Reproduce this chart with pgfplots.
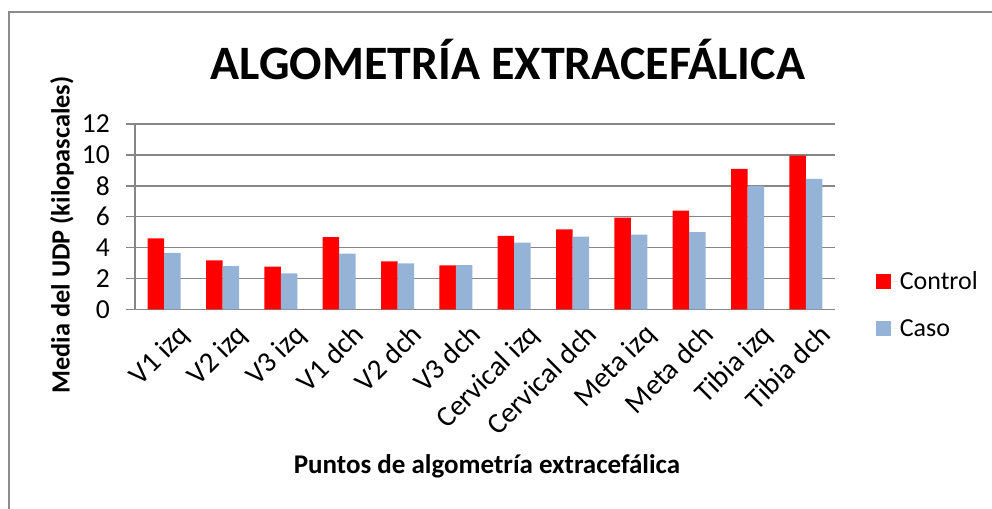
\documentclass[border=0pt]{standalone}
\usepackage{fontspec}
\setmainfont{Carlito}
\usepackage{pgfplots}
\pgfplotsset{compat=1.18}
\definecolor{ctrl}{HTML}{FF0000}
\definecolor{caso}{HTML}{95B3D7}
\definecolor{gridc}{HTML}{868686}
\definecolor{borderc}{HTML}{8C8C8C}
\begin{document}
\begin{tikzpicture}[x=1bp,y=1bp]
\path[use as bounding box] (0,0) rectangle (992,509);
\draw[borderc, line width=1.5bp] (9,0) -- (9,497) -- (992,497);
\begin{axis}[
  at={(135bp,199.7bp)}, anchor=south west,
  scale only axis, width=700bp, height=185.3bp,
  ybar=0pt, bar width=16.5bp,
  xmin=-0.5, xmax=11.5, ymin=0, ymax=12,
  xtick={0,...,11},
  xticklabels={V1 izq,V2 izq,V3 izq,V1 dch,V2 dch,V3 dch,Cervical izq,Cervical dch,Meta izq,Meta dch,Tibia izq,Tibia dch},
  ytick={0,2,...,12},
  axis x line*=bottom, axis y line*=left,
  axis line style={gridc, line width=1.5bp},
  ymajorgrids, major grid style={gridc, line width=1.5bp},
  xtick style={draw=none},
  ytick style={gridc, line width=1.5bp},
  tick align=outside, major tick length=9bp,
  /pgf/number format/assume math mode=true,
  yticklabel style={font=\fontsize{27.5bp}{30bp}\selectfont, inner sep=2bp, xshift=-14bp},
  xticklabel style={font=\fontsize{29bp}{31bp}\selectfont, rotate=45, anchor=north east, inner sep=2bp, xshift=8bp, yshift=-9bp},
  legend style={at={(1.058,0.215)}, anchor=north west, draw=none, fill=none,
    font=\fontsize{26bp}{30bp}\selectfont, row sep=24bp, inner sep=0pt},
  legend cell align=left,
  legend image code/.code={\fill[#1] (0bp,-7.5bp) rectangle (15bp,7.5bp); \path (0bp,0bp) -- (22bp,0bp);},
]
\addplot[fill=ctrl, draw=none] coordinates {(0,4.6) (1,3.17) (2,2.76) (3,4.68) (4,3.11) (5,2.85) (6,4.75) (7,5.18) (8,5.93) (9,6.39) (10,9.09) (11,9.95)};
\addplot[fill=caso, draw=none] coordinates {(0,3.65) (1,2.8) (2,2.33) (3,3.6) (4,2.98) (5,2.86) (6,4.31) (7,4.7) (8,4.83) (9,5.0) (10,7.97) (11,8.44)};
\legend{Control,Caso}
\end{axis}
\node[font=\bfseries\fontsize{48bp}{52bp}\selectfont] at (508,449) {ALGOMETRÍA EXTRACEFÁLICA};
\node[font=\bfseries\fontsize{27bp}{31bp}\selectfont] at (487,43) {Puntos de algometría extracefálica};
\node[font=\bfseries\fontsize{26.3bp}{30bp}\selectfont, rotate=90] at (62,274) {Media del UDP (kilopascales)};
\end{tikzpicture}
\end{document}
